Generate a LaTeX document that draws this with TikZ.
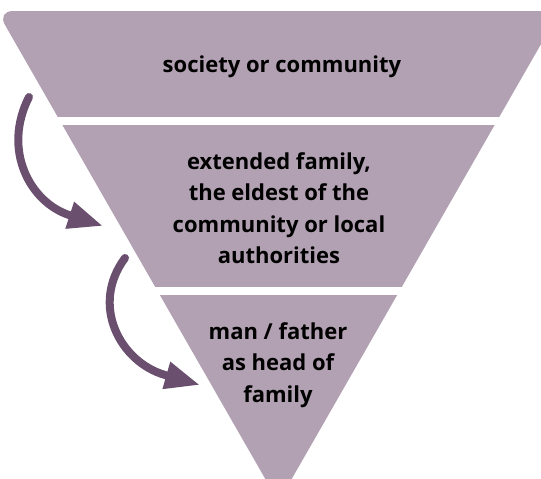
\documentclass[tikz,border=0pt]{standalone}
\usepackage{fontspec}
\setmainfont{Open Sans}
\usetikzlibrary{arrows.meta}
\definecolor{bandfill}{RGB}{178,161,178}
\definecolor{arrowcol}{RGB}{106,80,110}
\tikzset{
  bandtext/.style={font=\bfseries\fontsize{22}{31.5}\selectfont, align=center, text=black, inner sep=0pt},
  flowarrow/.style={draw=arrowcol, line width=8pt, line cap=round, -{Triangle[length=35pt,width=26pt]}},
}
\begin{document}
\begin{tikzpicture}[x=1pt,y=-1pt]
\useasboundingbox (0,0) rectangle (541,479);
% inverted triangle
\coordinate (TL) at (-3,11);
\coordinate (TR) at (560,11);
\coordinate (AP) at (278.5,502);
\fill[bandfill, rounded corners=16pt] (TL) -- (TR) -- (AP) -- cycle;
% gaps between bands
\fill[white] (-10,117) rectangle (600,125);
\fill[white] (-10,287) rectangle (600,295);
% texts
\node[bandtext] (top) at (282,67) {society or community};
\node[bandtext] (mid) at (279,208) {extended family,\\the eldest of the\\community or local\\authorities};
\node[bandtext] (bot) at (278,365) {man / father\\as head of\\family};
% arrows
\coordinate (s1) at (29,97);
\coordinate (m1) at (69,215);
\coordinate (t1) at (103,226);
\coordinate (s2) at (125,258);
\coordinate (m2) at (165,375);
\coordinate (t2) at (200,385);
\draw[flowarrow] (s1) .. controls (2,150) and (30,202) .. (m1) -- (t1);
\draw[flowarrow] (s2) .. controls (90,305) and (120,362) .. (m2) -- (t2);
\end{tikzpicture}
\end{document}
